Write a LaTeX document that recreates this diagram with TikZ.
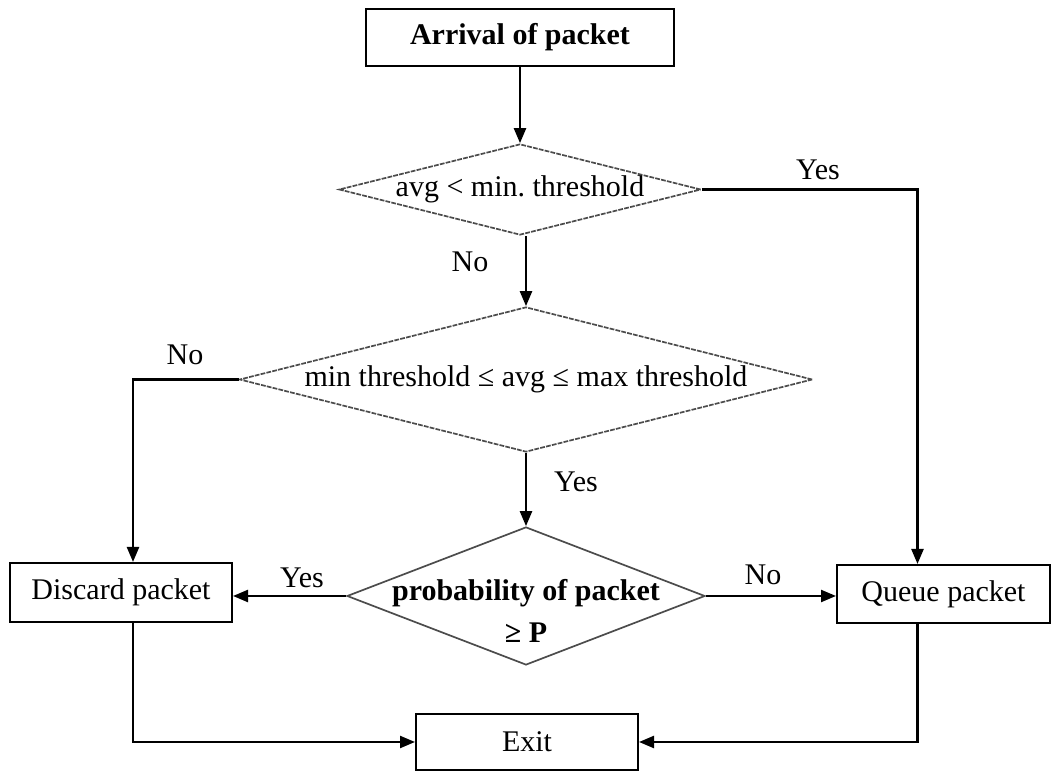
\documentclass[tikz,border=0pt]{standalone}
\usepackage{fontspec}
\setmainfont{Liberation Serif}
\usetikzlibrary{shapes.geometric,arrows.meta,calc}

\tikzset{
  every node/.style={font=\fontsize{15}{20}\selectfont, text=black},
  procbox/.style={draw, line width=1pt, rectangle, inner sep=0pt},
  decision/.style={diamond, inner sep=0pt, draw=black!70, line width=0.85pt},
  dashdec/.style={decision, dash pattern=on 2.4pt off 0.6pt},
  flow/.style={line width=1.15pt, -{Triangle[length=7.5pt,width=6pt]}},
  lbl/.style={inner sep=0pt}
}

\begin{document}
\begin{tikzpicture}[x=0.5pt, y=-0.5pt]
\useasboundingbox (0,0) rectangle (1057,774);

% process boxes
\node[procbox, minimum width=154pt, minimum height=28.5pt, font=\fontsize{15}{20}\selectfont\bfseries]
  (arr) at (520,37.5) {Arrival of packet};
\node[procbox, minimum width=111pt, minimum height=29.5pt] (dis) at (121,592.5) {Discard packet};
\node[procbox, minimum width=106.5pt, minimum height=29pt] (que) at (943.5,594) {Queue packet};
\node[procbox, minimum width=111pt, minimum height=28pt] (ex) at (527,742) {Exit};

% decisions
\node[dashdec, minimum width=181pt, minimum height=45.5pt, aspect=3.98] (d1) at (520,189.5) {avg < min.\ threshold};
\node[dashdec, minimum width=286.5pt, minimum height=72.5pt, aspect=3.95] (d2) at (526,379.5) {min threshold ≤ avg ≤ max threshold};
\node[decision, minimum width=179pt, minimum height=69pt, aspect=2.6] (d3) at (526,596) {};
\node[align=center, font=\fontsize{15}{21}\selectfont\bfseries, inner sep=0pt] (d3t) at (526,611)
  {probability of packet\\≥ P};

% branch labels
\node[lbl] (y1) at (818,170) {Yes};
\node[lbl] (n1) at (470,262) {No};
\node[lbl] (n2) at (185,355) {No};
\node[lbl] (y2) at (576,482) {Yes};
\node[lbl] (y3) at (302,578) {Yes};
\node[lbl] (n3) at (763,575) {No};

% connectors
\draw[flow] (arr) -- (d1);
\draw[flow] (d2.north |- d1.south) -- (d2.north);
\draw[flow] (d1.east) -| ([xshift=-13pt]que.north);
\draw[flow] (d2.west) -| ([xshift=6pt]dis.north);
\draw[flow] (d2) -- (d3);
\draw[flow] (d3.west) -- (d3.west -| dis.east);
\draw[flow] (d3.east) -- (d3.east -| que.west);
\draw[flow] ([xshift=6pt]dis.south) |- (ex.west);
\draw[flow] ([xshift=-13pt]que.south) |- (ex.east);
\end{tikzpicture}
\end{document}
